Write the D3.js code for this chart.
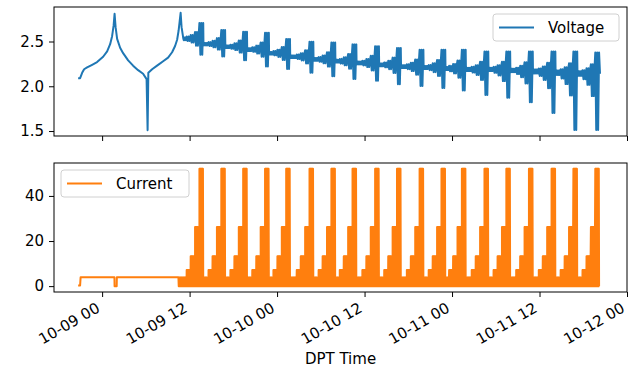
<!DOCTYPE html>
<html>
<head>
<meta charset="utf-8">
<script src="https://cdn.jsdelivr.net/npm/d3@7/dist/d3.min.js"></script>
<style>
  body { margin: 0; background: #fff; }
  text { font-family: "DejaVu Sans", sans-serif; fill: #000; }
</style>
</head>
<body>
<div id="chart"></div>
<script>
// all times are hours after 10-09 00:00
const T0 = Date.UTC(2021, 9, 9);
const hour = h => new Date(T0 + h * 3600e3);

// voltage before the regular cycling starts: [hours, V]
const voltageLead = [[-3.29, 2.09], [-3.02, 2.09], [-2.74, 2.15], [-2.47, 2.19], [-2.06, 2.21],
  [-1.37, 2.24], [-0.69, 2.27], [0.14, 2.33], [0.69, 2.39], [1.10, 2.47], [1.37, 2.56],
  [1.58, 2.68], [1.71, 2.81], [1.85, 2.66], [2.06, 2.53], [2.47, 2.43], [2.88, 2.37],
  [3.57, 2.29], [4.25, 2.23], [4.94, 2.18], [5.62, 2.14], [6.10, 2.08], [6.24, 1.51],
  [6.34, 2.15], [6.86, 2.19], [7.54, 2.23], [8.37, 2.28], [9.05, 2.32], [9.60, 2.38],
  [10.01, 2.45], [10.29, 2.52], [10.49, 2.62], [10.63, 2.72], [10.77, 2.82], [10.90, 2.66],
  [11.11, 2.55]];
// current before the cycling: [hours, A]
const currentLead = [[-3.29, 0.3], [-3.02, 0.3], [-2.95, 3.9], [1.69, 3.9], [1.71, 0],
  [2.0, 0], [2.02, 3.9], [10.45, 3.9]];

// one entry per charge cycle (time of the 52 A step)
const peakHours = [13.6, 16.6, 19.6, 22.6, 25.5, 28.7, 31.7, 34.6, 37.7, 40.7, 43.8, 46.8,
  49.6, 52.7, 55.7, 58.8, 61.9, 64.9, 67.9];
const baseVolts = [2.53, 2.47, 2.44, 2.41, 2.37, 2.33, 2.30, 2.28, 2.26, 2.24, 2.22, 2.21,
  2.20, 2.19, 2.19, 2.18, 2.17, 2.16, 2.15];
const spikeHigh = [2.70, 2.62, 2.60, 2.59, 2.52, 2.49, 2.48, 2.46, 2.44, 2.42, 2.40, 2.40,
  2.40, 2.38, 2.38, 2.38, 2.38, 2.38, 2.37];
const spikeLow = [2.36, 2.34, 2.30, 2.23, 2.20, 2.16, 2.12, 2.09, 2.07, 2.03, 2.01, 1.99,
  1.96, 1.91, 1.88, 1.83, 1.71, 1.52, 1.52];

// current steps inside a cycle, hours relative to the peak
const stepLevels = [3.8, 7.2, 13.3, 26.2, 52];
const stepStart = [null, -2.0, -1.45, -0.85, -0.25];
const stepEnd = [-2.0, -1.45, -0.85, -0.25, 0.3];
// share of the cycle's voltage excursion during each step
const stepSwing = [0.04, 0.1, 0.2, 0.4, 1];

const voltTicks = [1.5, 2.0, 2.5];
const currentTicks = [0, 20, 40];
const xTicks = [0, 12, 24, 36, 48, 60, 72];

// build the pulsed series from the values above
const current = currentLead.slice();
const voltage = voltageLead.slice();
let cEnd = 10.47, vEnd = 11.11;
peakHours.forEach((p, k) => {
  const b = baseVolts[k];
  stepLevels.forEach((lvl, s) => {
    const e = p + stepEnd[s];
    let a = s === 0 ? cEnd : p + stepStart[s];
    for (let t = a, on = true; t < e; t += 0.04, on = !on) current.push([t, on ? lvl : 0]);
    a = s === 0 ? vEnd : p + stepStart[s];
    const f = stepSwing[s];
    const dt = s === 0 ? 0.08 : 0.13;
    for (let t = a, up = true; t < e; t += dt, up = !up) {
      voltage.push([t, up ? b + (spikeHigh[k] - b) * f + 0.008
                          : b - (b - spikeLow[k]) * f - 0.008]);
    }
  });
  cEnd = vEnd = p + stepEnd[4];
});
current.push([cEnd, 0]);
voltage.push([cEnd + 0.1, 2.14]);

const W = 641, H = 370;
const left = 54, right = 627;
const panels = [
  { key: 'Voltage', data: voltage, ticks: voltTicks, fmt: d3.format('.1f'), top: 7, bottom: 136, color: '#1f77b4' },
  { key: 'Current', data: current, ticks: currentTicks, fmt: d3.format('d'), top: 163, bottom: 292, color: '#ff7f0e' }
];

const svg = d3.select('#chart').append('svg').attr('width', W).attr('height', H);

const x = d3.scaleUtc().domain([hour(-6.6), hour(72)]).range([left, right]);

panels.forEach((pn, i) => {
  const [lo, hi] = d3.extent(pn.data, d => d[1]);
  const pad = (hi - lo) * 0.05;
  const y = d3.scaleLinear().domain([lo - pad, hi + pad]).range([pn.bottom, pn.top]);

  const line = d3.line().x(d => x(hour(d[0]))).y(d => y(d[1]));
  const clipId = 'clip' + i;
  svg.append('clipPath').attr('id', clipId).append('rect')
    .attr('x', left).attr('y', pn.top).attr('width', right - left).attr('height', pn.bottom - pn.top);
  svg.append('path').datum(pn.data)
    .attr('clip-path', `url(#${clipId})`)
    .attr('d', line).attr('fill', 'none').attr('stroke', pn.color)
    .attr('stroke-width', 2).attr('stroke-linejoin', 'round');

  const ya = svg.append('g').attr('transform', `translate(${left},0)`)
    .call(d3.axisLeft(y).tickValues(pn.ticks).tickFormat(pn.fmt).tickSizeOuter(0).tickSize(5).tickPadding(5));
  ya.select('.domain').remove();
  ya.selectAll('text').style('font-size', '15px').attr('font-family', null);

  const xa = svg.append('g').attr('transform', `translate(0,${pn.bottom})`)
    .call(d3.axisBottom(x).tickValues(xTicks.map(hour)).tickFormat(d3.utcFormat('%m-%d %H'))
      .tickSizeOuter(0).tickSize(5));
  xa.select('.domain').remove();
  if (i === 0) {
    xa.selectAll('text').remove();
  } else {
    xa.selectAll('text')
      .attr('y', 0).attr('dy', 0).attr('x', 0)
      .attr('text-anchor', 'end')
      .attr('transform', 'translate(-1.7,19) rotate(-30)')
      .style('font-size', '15px');
  }
  svg.selectAll('.tick line').attr('stroke', '#000');

  svg.append('rect').attr('x', left).attr('y', pn.top)
    .attr('width', right - left).attr('height', pn.bottom - pn.top)
    .attr('fill', 'none').attr('stroke', '#000').attr('stroke-width', 1);

  // legend
  const lg = i === 0
    ? { x: 493, y: 14, w: 126, h: 27 }
    : { x: 61, y: 170, w: 128, h: 27 };
  const g = svg.append('g').attr('transform', `translate(${lg.x},${lg.y})`);
  g.append('rect').attr('width', lg.w).attr('height', lg.h).attr('rx', 3)
    .attr('fill', '#fff').attr('fill-opacity', 0.8).attr('stroke', '#d0d0d0');
  g.append('line').attr('x1', 6).attr('x2', 41).attr('y1', lg.h / 2).attr('y2', lg.h / 2)
    .attr('stroke', pn.color).attr('stroke-width', 2);
  g.append('text').attr('x', 55).attr('y', lg.h / 2).attr('dy', '0.35em')
    .style('font-size', '15px').text(pn.key);
});

svg.append('text').attr('x', (left + right) / 2).attr('y', 364)
  .attr('text-anchor', 'middle').style('font-size', '15px').text('DPT Time');
</script>
</body>
</html>
